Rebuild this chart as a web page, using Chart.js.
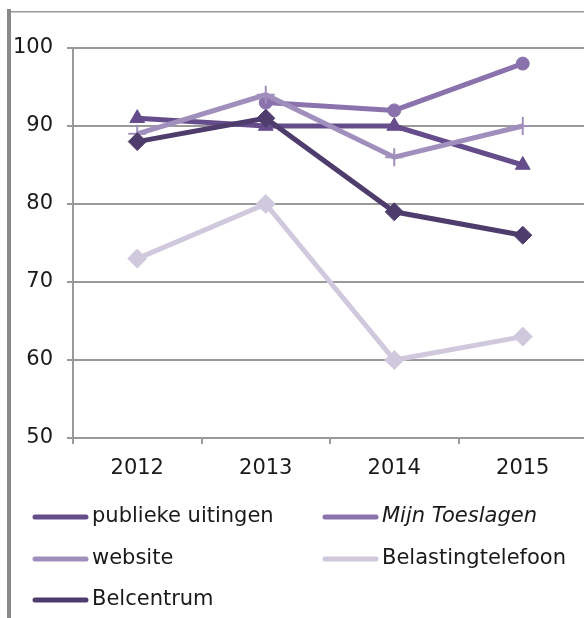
<!DOCTYPE html>
<html>
<head>
<meta charset="utf-8">
<script src="https://cdn.jsdelivr.net/npm/chart.js@4"></script>
<style>
  html, body { margin: 0; padding: 0; background: #fff; }
  #wrap { width: 584px; height: 618px; overflow: hidden; position: relative; }
  canvas { display: block; }
</style>
</head>
<body>
<div id="wrap"><canvas id="chart" width="598" height="618"></canvas></div>
<script>
const years = ["2012", "2013", "2014", "2015"];

const seriesNames = ["publieke uitingen", "Mijn Toeslagen", "website", "Belastingtelefoon", "Belcentrum"];
const publiekeUitingen = [91, 90, 90, 85];
const mijnToeslagen = [null, 93, 92, 98];
const website = [89, 94, 86, 90];
const belastingtelefoon = [73, 80, 60, 63];
const belcentrum = [88, 91, 79, 76];

const yTicks = [50, 60, 70, 80, 90, 100];

const colors = ["#654c8a", "#8a72ad", "#a08fbd", "#d0c9de", "#4e3d6c"];
const markers = ["triangle", "circle", "cross", "rectRot", "rectRot"];
const markerSize = [8.5, 6.5, 9, 9.5, 9];
const values = [publiekeUitingen, mijnToeslagen, website, belastingtelefoon, belcentrum];

const FONT = "'DejaVu Sans', Verdana, sans-serif";

const datasets = seriesNames.map((name, i) => ({
  label: name,
  data: values[i],
  borderColor: colors[i],
  backgroundColor: colors[i],
  borderWidth: 5,
  pointStyle: markers[i],
  pointRadius: markerSize[i],
  pointBorderWidth: markers[i] === "cross" ? 2 : 1,
  pointBackgroundColor: colors[i],
  pointBorderColor: colors[i],
  tension: 0,
  order: 5 - i
}));

// frame bits (grey left bar and thin top line)
const framePlugin = {
  id: "frame",
  beforeDraw(chart) {
    const ctx = chart.ctx;
    ctx.save();
    ctx.fillStyle = "#8a8a8a";
    ctx.fillRect(7, 9, 4, 618);
    ctx.fillStyle = "#9a9a9a";
    ctx.fillRect(11, 11, 600, 1.5);
    ctx.restore();
  }
};

// excel style legend: line with marker in the middle
const legendPlugin = {
  id: "xlLegend",
  afterDraw(chart) {
    const ctx = chart.ctx;
    const cols = [33, 323];
    const rows = [517, 559, 600];
    ctx.save();
    chart.data.datasets.forEach((ds, i) => {
      const x = cols[i % 2];
      const y = rows[Math.floor(i / 2)];
      ctx.strokeStyle = ds.borderColor;
      ctx.lineWidth = 5;
      ctx.lineCap = "round";
      ctx.beginPath();
      ctx.moveTo(x + 2, y);
      ctx.lineTo(x + 53, y);
      ctx.stroke();
      ctx.lineCap = "butt";
      ctx.fillStyle = ds.backgroundColor;
      ctx.lineWidth = ds.pointStyle === "cross" ? 2 : 1;
      Chart.helpers.drawPoint(ctx, {
        pointStyle: ds.pointStyle,
        rotation: 0,
        borderWidth: ctx.lineWidth
      }, x + 28, y, ds.pointStyle === "cross" ? 6 : 5.5);
      ctx.fillStyle = "#1a1a1a";
      ctx.textBaseline = "middle";
      ctx.textAlign = "left";
      ctx.font = (ds.label === "Mijn Toeslagen" ? "italic " : "") + "21px " + FONT;
      ctx.fillText(ds.label, x + 59, y);
    });
    ctx.restore();
  }
};

new Chart(document.getElementById("chart"), {
  type: "line",
  data: { labels: years, datasets: datasets },
  options: {
    responsive: false,
    animation: false,
    events: [],
    layout: { padding: { top: 48, bottom: 120, left: 0, right: 1 } },
    plugins: { legend: { display: false }, tooltip: { enabled: false } },
    scales: {
      x: {
        offset: true,
        grid: { offset: true, drawOnChartArea: false, drawTicks: true, tickLength: 6, color: "#9a9a9a", lineWidth: 2 },
        border: { color: "#9a9a9a", width: 2 },
        ticks: { color: "#1a1a1a", font: { family: FONT, size: 21 }, padding: 12, maxRotation: 0 },
        afterFit(scale) { scale.height = 60; }
      },
      y: {
        min: 50,
        max: 100,
        afterBuildTicks(scale) { scale.ticks = yTicks.map(v => ({ value: v })); },
        grid: { color: "#9a9a9a", lineWidth: 2, tickLength: 6 },
        border: { color: "#9a9a9a", width: 2 },
        ticks: { color: "#1a1a1a", font: { family: FONT, size: 21 }, padding: 14 },
        afterFit(scale) { scale.width = 73; }
      }
    }
  },
  plugins: [framePlugin, legendPlugin]
});
</script>
</body>
</html>
